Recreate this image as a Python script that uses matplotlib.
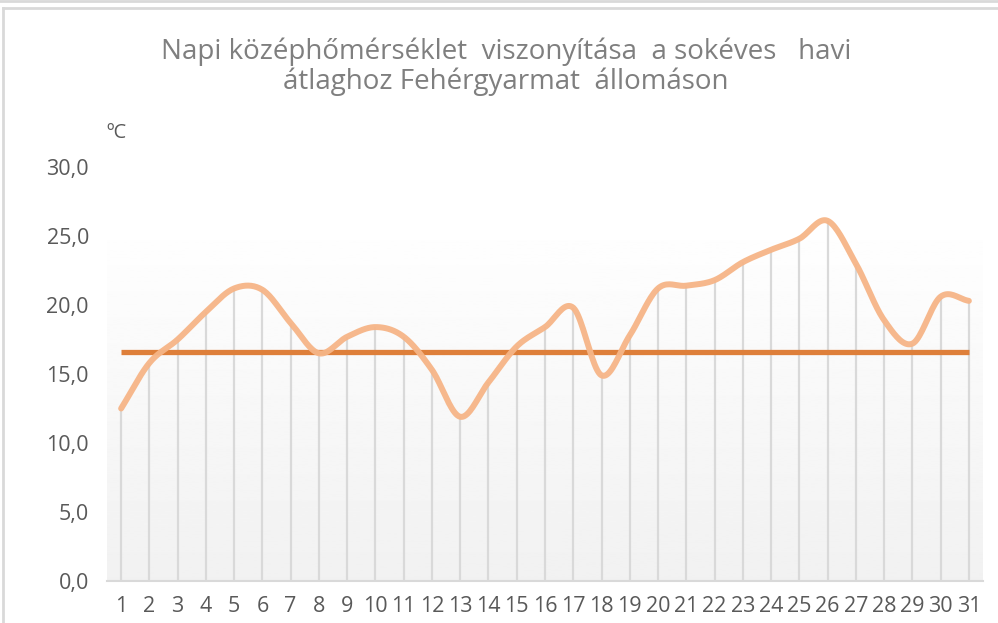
import numpy as np
import matplotlib
matplotlib.use("Agg")
import matplotlib.pyplot as plt
from matplotlib.lines import Line2D

# napok es napi kozephomerseklet (C)
napok = list(range(1, 32))
homerseklet = [12.5, 15.8, 17.5, 19.5, 21.2, 21.1, 18.7, 16.5, 17.7, 18.4,
               17.7, 15.3, 11.9, 14.4, 17.0, 18.4, 19.8, 14.9, 17.8, 21.2,
               21.4, 21.8, 23.1, 24.0, 24.8, 26.1, 23.0, 18.9, 17.2, 20.6, 20.3]
atlag = 16.6  # sokeves havi atlag
y_ticks = [0, 5, 10, 15, 20, 25, 30]

cim = "Napi középhőmérséklet  viszonyítása  a sokéves   havi\nátlaghoz Fehérgyarmat  állomáson"


def simitas(x, y, n=20):
    # Excel-szeru simitott vonal (Catmull-Rom)
    x = np.asarray(x, float)
    y = np.asarray(y, float)
    px = np.concatenate([[2 * x[0] - x[1]], x, [2 * x[-1] - x[-2]]])
    py = np.concatenate([[2 * y[0] - y[1]], y, [2 * y[-1] - y[-2]]])
    xs, ys = [], []
    t = np.linspace(0, 1, n, endpoint=False)
    for i in range(1, len(px) - 2):
        for p, out in ((px, xs), (py, ys)):
            p0, p1, p2, p3 = p[i - 1], p[i], p[i + 1], p[i + 2]
            out.extend(0.5 * ((2 * p1) + (-p0 + p2) * t
                              + (2 * p0 - 5 * p1 + 4 * p2 - p3) * t ** 2
                              + (-p0 + 3 * p1 - 3 * p2 + p3) * t ** 3))
    xs.append(x[-1])
    ys.append(y[-1])
    return np.array(xs), np.array(ys)


fig = plt.figure(figsize=(9.98, 6.23), dpi=100)
W, H = 998, 623
ax = fig.add_axes([107 / W, 1 - 581 / H, (983 - 107) / W, (581 - 167) / H])
ax.set_xlim(0.5, 31.5)
ax.set_ylim(0, 30)
ax.patch.set_alpha(0)

# szurke atmenetes hatter
grad = np.linspace(1.0, 0.945, 256).reshape(-1, 1)
ax.imshow(grad, cmap="gray", vmin=0, vmax=1, aspect="auto",
          extent=[0.5, 31.5, 0, 26.6], zorder=0)

ax.vlines(napok, 0, homerseklet, color="#d9d9d9", lw=1.6, zorder=1)
ax.plot(napok, [atlag] * len(napok), color="#de7f3a", lw=3.8,
        solid_capstyle="butt", zorder=3)
sx, sy = simitas(napok, homerseklet)
ax.plot(sx, sy, color="#f6b587", lw=4.3, alpha=0.95, solid_capstyle="round", zorder=4)

for s in ["top", "right", "left"]:
    ax.spines[s].set_visible(False)
ax.spines["bottom"].set_color("#d9d9d9")
ax.spines["bottom"].set_linewidth(1.5)

ax.set_xticks(napok)
ax.set_xticklabels([str(d) for d in napok])
ax.set_yticks(y_ticks)
ax.set_yticklabels([f"{v:.1f}".replace(".", ",") for v in y_ticks])
ax.tick_params(axis="both", length=0, labelsize=15.5, colors="#595959")
ax.tick_params(axis="x", pad=11)
ax.tick_params(axis="y", pad=13)
for lab in ax.get_xticklabels() + ax.get_yticklabels():
    lab.set_family("Open Sans")

fig.text(106 / W, 1 - 133 / H, "ºC", fontsize=14.5, color="#595959",
         family="Open Sans", ha="left", va="center")
fig.text(506 / W, 1 - 67 / H, cim, fontsize=20, color="#7f7f7f",
         family="Open Sans", ha="center", va="center", linespacing=1.05)

# keret
fig.add_artist(Line2D([0, 1], [1 - 1 / H, 1 - 1 / H], color="#d9d9d9", lw=2))
fig.add_artist(Line2D([3 / W, 1], [1 - 8 / H, 1 - 8 / H], color="#d9d9d9", lw=2))
fig.add_artist(Line2D([3 / W, 3 / W], [0, 1 - 8 / H], color="#d9d9d9", lw=2))

fig.savefig("out.png", dpi=100)
